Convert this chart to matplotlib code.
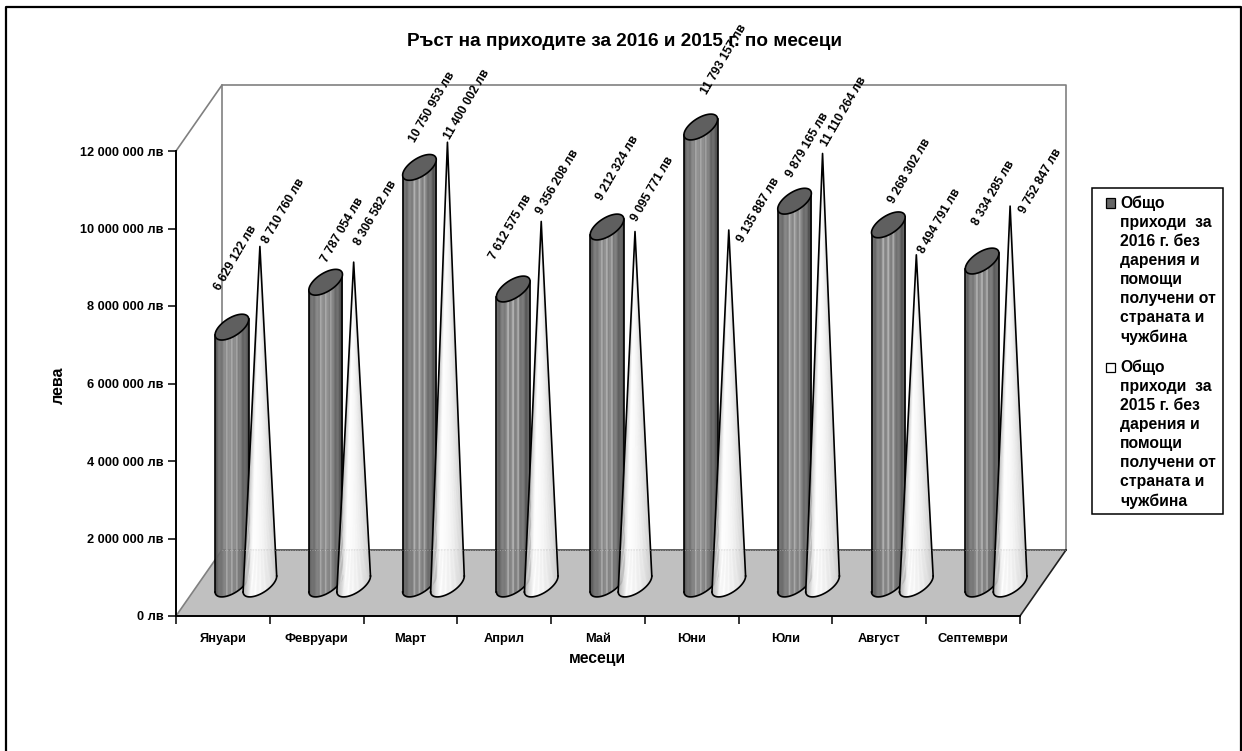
import numpy as np
import matplotlib
matplotlib.use('Agg')
import matplotlib.pyplot as plt
from matplotlib.lines import Line2D
from matplotlib.patches import Polygon, Rectangle

plt.rcParams['font.family'] = ['Liberation Sans', 'DejaVu Sans']

# the data
months = ['Януари', 'Февруари', 'Март', 'Април', 'Май', 'Юни', 'Юли', 'Август', 'Септември']
income_2016 = [6629122, 7787054, 10750953, 7612575, 9212324, 11793157, 9879165, 9268302, 8334285]
income_2015 = [8710760, 8306582, 11400002, 9356208, 9095771, 9135887, 11110264, 8494791, 9752847]
y_ticks = [0, 2000000, 4000000, 6000000, 8000000, 10000000, 12000000]
title = 'Ръст на приходите за 2016 и 2015 г. по месеци'
legend_2016 = 'Общо\nприходи  за\n2016 г. без\nдарения и\nпомощи\nполучени от\nстраната и\nчужбина'
legend_2015 = 'Общо\nприходи  за\n2015 г. без\nдарения и\nпомощи\nполучени от\nстраната и\nчужбина'

# label shifts from the top of each mark, in pixels (they were moved by hand in the original)
label_shift_2016 = [(4, 69), (17, 52), (13, 60), (-3, 62), (11, 59), (23, 68), (13, 56), (21, 54), (11, 68)]
label_shift_2015 = [(24, 35), (22, 49), (20, 38), (16, 39), (18, 42), (30, 20), (21, 42), (23, 34), (30, 25)]

# layout in pixels
W, H = 1242, 751
left, right, top, bottom = 176, 1020, 151, 616
depth_x, depth_y = 46, 66
px_x = len(months) / (right - left)
px_y = 12000000 / (bottom - top)
base_lift = 32 * px_y


def fmt_money(v):
    return f'{v:,}'.replace(',', ' ') + ' лв'


def base_shape(cx, y, n=121):
    # circle lying on the floor, sheared by the depth of the chart
    t = np.linspace(0, 2 * np.pi, n)
    xs = cx + (15.5 * np.cos(t) + 6.5 * np.sin(t)) * px_x
    ys = y + (12.5 * np.sin(t) + 3.2 * np.cos(t)) * px_y
    return xs, ys


def lower_edge(xs, ys):
    # lower side of the base, from its left end to its right end
    a, b = np.argmin(xs), np.argmax(xs)
    idx = np.arange(a, b + 1) if a < b else np.r_[np.arange(a, len(xs)), np.arange(1, b + 1)]
    return xs[idx], ys[idx]


def shade_color(u, dark):
    # u goes 0..1 from left to right of the mark
    if dark:
        g = 0.32 + 0.2 * np.sin(np.pi * min(u * 1.1, 1)) ** 0.8
        if min(abs(u - 0.34), abs(u - 0.5), abs(u - 0.66)) < 0.025:
            g += 0.14
    else:
        g = 1.0 - 0.2 * u ** 3 - 0.3 * max(0.25 - u, 0) / 0.25
    return (g, g, g)


def draw_cylinder(ax, cx, value):
    y0 = base_lift
    xs, ys = base_shape(cx, y0)
    ex, ey = lower_edge(xs, ys)
    edges = np.linspace(ex[0], ex[-1], 41)
    for i in range(len(edges) - 1):
        u = (i + 0.5) / (len(edges) - 1)
        a, b = edges[i], edges[i + 1] + 0.3 * px_x
        ya, yb = np.interp(a, ex, ey), np.interp(b, ex, ey)
        ax.fill([a, b, b, a], [ya, yb, yb + value, ya + value],
                color=shade_color(u, True), lw=0, zorder=3, clip_on=False)
    line = dict(color='black', lw=1.2, zorder=4, clip_on=False)
    ax.plot(ex, ey, **line)
    ax.plot([ex[0], ex[0]], [ey[0], ey[0] + value], **line)
    ax.plot([ex[-1], ex[-1]], [ey[-1], ey[-1] + value], **line)
    ax.add_patch(Polygon(np.column_stack([xs, ys + value]), closed=True, facecolor='#5f5f5f',
                         edgecolor='black', lw=1.2, zorder=5, clip_on=False))


def draw_cone(ax, cx, value):
    y0 = base_lift
    xs, ys = base_shape(cx, y0)
    ex, ey = lower_edge(xs, ys)
    edges = np.linspace(ex[0], ex[-1], 41)
    for i in range(len(edges) - 1):
        u = (i + 0.5) / (len(edges) - 1)
        a, b = edges[i], edges[i + 1] + 0.3 * px_x
        ax.fill([a, b, cx], [np.interp(a, ex, ey), np.interp(b, ex, ey), y0 + value],
                color=shade_color(u, False), lw=0, zorder=6, clip_on=False)
    line = dict(color='black', lw=1.2, zorder=7, clip_on=False)
    ax.plot(ex, ey, **line)
    ax.plot([ex[0], cx, ex[-1]], [ey[0], y0 + value, ey[-1]], **line)


fig = plt.figure(figsize=(W / 100, H / 100), dpi=100)
ax = fig.add_axes([left / W, 1 - bottom / H, (right - left) / W, (bottom - top) / H])
n = len(months)
ax.set_xlim(0, n)
ax.set_ylim(0, 12000000)
ax.patch.set_alpha(0)

# outer frame, the bottom edge falls outside of the picture
fig.add_artist(Line2D([6 / W, 6 / W, 1241 / W, 1241 / W], [0, 1 - 7 / H, 1 - 7 / H, 0],
                      color='black', lw=1.6, transform=fig.transFigure, clip_on=False))

# walls and floor of the 3d box
dx, dy = depth_x * px_x, depth_y * px_y
wall_color = '#808080'
ax.add_patch(Polygon([(0, 0), (n, 0), (n + dx, dy), (dx, dy)], closed=True, facecolor='#c0c0c0',
                     edgecolor='none', zorder=1, clip_on=False))
ax.plot([dx, n + dx], [dy, dy], color='#606060', lw=1.4, zorder=2, clip_on=False)
ax.plot([0, dx], [0, dy], color=wall_color, lw=1.2, zorder=2, clip_on=False)
ax.plot([n, n + dx], [0, dy], color='#202020', lw=1.2, zorder=2, clip_on=False)
ax.plot([0, dx, n + dx, n + dx], [12000000, 12000000 + dy, 12000000 + dy, dy],
        color=wall_color, lw=1.2, zorder=1, clip_on=False)
ax.plot([dx, dx], [dy, 12000000 + dy], color=wall_color, lw=1.2, zorder=1, clip_on=False)

# the marks, from left to right
for i, month in enumerate(months):
    x_2016 = i + 0.5 + 9 * px_x
    x_2015 = i + 0.5 + 37 * px_x
    draw_cylinder(ax, x_2016, income_2016[i])
    draw_cone(ax, x_2015, income_2015[i])
    for x, v, shift in ((x_2016, income_2016[i], label_shift_2016[i]),
                        (x_2015, income_2015[i], label_shift_2015[i])):
        ax.annotate(fmt_money(v), (x, base_lift + v), xytext=shift, textcoords='offset pixels',
                    rotation=60, ha='center', va='center', fontsize=8.7, fontweight='bold',
                    color='black', zorder=10, annotation_clip=False)

# faint line of the floor edge seen through the marks
ax.plot([dx, n + dx], [dy, dy], color='white', lw=0.6, ls=(0, (1, 2)), alpha=0.45, zorder=8,
        clip_on=False)

# axes
for s in ('top', 'right'):
    ax.spines[s].set_visible(False)
for s in ('left', 'bottom'):
    ax.spines[s].set_linewidth(1.4)
    ax.spines[s].set_zorder(2.5)
ax.set_yticks(y_ticks)
ax.set_yticklabels([fmt_money(v) for v in y_ticks], fontsize=9.2, fontweight='bold')
ax.set_xticks(np.arange(n + 1))
ax.set_xticklabels([])
ax.set_xticks(np.arange(n) + 0.5, labels=months, minor=True, fontsize=9.3, fontweight='bold')
ax.tick_params(axis='x', which='minor', length=0, pad=12.5)
ax.tick_params(axis='x', which='major', length=6, width=1.1)
ax.tick_params(axis='y', length=6, width=1.1, pad=3)

fig.text(624.5 / W, 1 - 42 / H, title, ha='center', va='center', fontsize=13.7, fontweight='bold')
fig.text(58 / W, 1 - 385 / H, 'лева', rotation=90, ha='center', va='center', fontsize=11.5,
         fontweight='bold')
fig.text(597 / W, 1 - 658 / H, 'месеци', ha='center', va='center', fontsize=11.3, fontweight='bold')

# legend box
fig.add_artist(Rectangle((1092 / W, 1 - 514 / H), 131 / W, 326 / H, facecolor='white',
                         edgecolor='black', lw=1.1, transform=fig.transFigure))
for text, color, y in ((legend_2016, '#666666', 203), (legend_2015, 'white', 367)):
    fig.add_artist(Rectangle((1106 / W, 1 - (y + 4.5) / H), 9 / W, 9 / H, facecolor=color,
                             edgecolor='black', lw=0.9, transform=fig.transFigure))
    fig.text(1120 / W, 1 - (y - 7) / H, text, ha='left', va='top', fontsize=11.3, fontweight='bold',
             linespacing=1.33)

fig.savefig('out.png', dpi=100)
